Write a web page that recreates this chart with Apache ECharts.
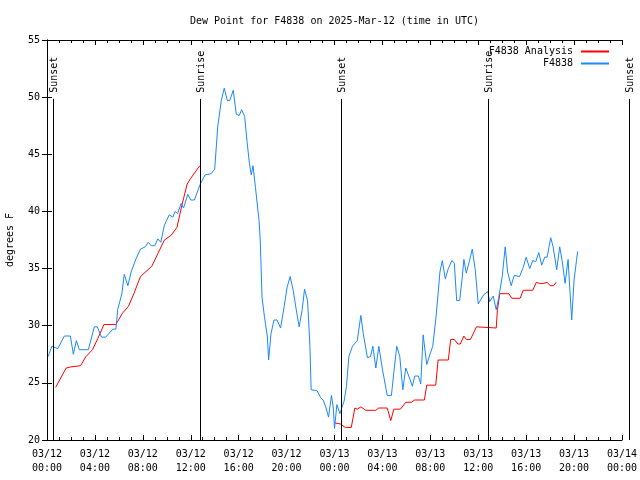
<!DOCTYPE html>
<html>
<head>
<meta charset="utf-8">
<script src="https://cdn.jsdelivr.net/npm/echarts@6/dist/echarts.min.js"></script>
<style>html,body{margin:0;padding:0;background:#fff}#c{width:640px;height:480px}</style>
</head>
<body>
<div id="c"></div>
<script>
// hours since 2025-03-12 00:00 UTC
const obsHours = [0.1,0.4,0.9,1.45,1.95,2.2,2.45,2.7,3.45,3.95,4.2,4.55,4.9,5.5,5.75,5.9,6.25,6.45,6.75,7.05,7.45,7.8,8.2,8.45,8.7,9.0,9.25,9.5,9.8,10.2,10.5,10.7,10.9,11.2,11.4,11.75,12.0,12.3,12.8,13.2,13.7,14.0,14.25,14.55,14.8,15.05,15.25,15.55,15.8,16.05,16.25,16.5,16.7,16.9,17.05,17.2,17.4,17.7,17.8,17.95,18.15,18.4,18.5,18.7,18.95,19.2,19.5,19.8,20.05,20.3,20.55,20.85,21.05,21.3,21.5,21.75,21.95,22.05,22.55,22.85,23.05,23.3,23.5,23.75,23.9,24.0,24.2,24.45,24.6,24.8,25.0,25.2,25.5,25.9,26.2,26.4,26.75,27.0,27.2,27.45,27.7,28.0,28.4,28.75,28.95,29.2,29.45,29.7,29.95,30.2,30.5,30.7,31.0,31.2,31.4,31.7,32.0,32.2,32.45,32.65,32.8,33.0,33.25,33.5,33.8,34.0,34.2,34.45,34.65,34.8,35.0,35.25,35.5,35.75,36.0,36.45,36.8,36.95,37.25,37.5,37.7,38.0,38.25,38.45,38.75,39.0,39.45,39.75,40.0,40.3,40.55,40.8,41.05,41.3,41.55,41.75,42.05,42.25,42.55,42.8,43.0,43.25,43.5,43.65,43.8,44.0,44.2,44.3];
const obsDew = [27.3,28.2,28.0,29.1,29.1,27.5,28.7,27.9,27.9,29.9,29.9,29.0,29.0,29.7,29.7,31.4,32.8,34.5,33.5,34.8,35.9,36.7,36.9,37.3,37.0,37.0,37.6,37.3,38.8,39.7,39.5,40.0,39.8,40.7,40.3,41.5,41.0,41.0,42.4,43.2,43.3,43.7,47.4,49.7,50.8,49.7,49.7,50.6,48.5,48.4,48.9,48.3,46.1,44.2,43.2,44.0,42.1,39.2,37.5,32.5,30.8,29.0,27.0,29.3,30.5,30.5,29.8,31.7,33.4,34.3,33.1,31.1,29.9,31.4,33.2,32.2,28.2,24.4,24.3,23.7,23.5,22.8,22.0,23.9,22.8,21.0,23.1,22.3,22.8,23.4,24.7,27.3,28.2,28.7,30.9,29.3,27.2,27.3,28.2,26.3,28.2,26.2,23.9,23.9,25.9,28.2,27.3,24.4,26.3,25.6,24.7,25.6,25.6,24.9,29.2,26.6,27.6,28.2,30.5,32.8,34.7,35.7,34.1,35.0,35.7,35.5,32.2,32.2,34.1,35.8,34.6,35.6,36.7,34.9,31.9,32.7,33.0,32.1,32.6,31.4,32.4,34.3,36.9,34.7,33.5,34.4,34.3,35.1,36.0,35.0,35.7,35.6,36.4,35.3,36.0,36.0,37.7,36.9,34.9,36.9,35.7,33.7,35.8,33.1,30.5,34.0,35.7,36.5];
const anaHours = [0.72,1.6,2.0,2.8,3.25,3.8,4.25,4.75,5.75,6.3,6.8,7.25,7.8,8.75,9.25,9.8,10.35,10.85,11.25,11.7,12.0,12.75,18.0,24.0,24.5,24.9,25.4,25.7,25.9,26.2,26.6,27.45,27.7,28.4,28.7,28.95,29.5,29.95,30.4,30.7,31.5,31.7,32.45,32.65,33.5,33.7,34.0,34.3,34.5,34.8,35.0,35.35,35.85,37.5,37.6,37.8,38.55,38.8,39.5,39.75,40.55,40.85,41.1,41.45,41.75,42.0,42.3,42.5];
const anaDew = [24.6,26.3,26.4,26.5,27.3,27.9,28.9,30.1,30.1,31.1,31.7,32.8,34.3,35.2,36.3,37.5,37.9,38.6,40.5,42.4,42.9,44.0,null,21.5,21.4,21.1,21.1,22.8,22.7,22.9,22.6,22.6,22.8,22.8,21.7,22.7,22.7,23.3,23.3,23.5,23.5,24.8,24.8,27.0,27.0,28.8,28.8,28.4,28.4,29.1,28.8,28.8,29.9,29.8,31.4,32.8,32.8,32.4,32.4,33.1,33.1,33.8,33.7,33.7,33.8,33.5,33.5,33.8];
const sunHours = [0.53, 12.8, 24.53, 36.8, 48.58];
const sunLabels = ['Sunset', 'Sunrise', 'Sunset', 'Sunrise', 'Sunset'];
const xTickLabels = ['03/12\n00:00','03/12\n04:00','03/12\n08:00','03/12\n12:00','03/12\n16:00','03/12\n20:00','03/13\n00:00','03/13\n04:00','03/13\n08:00','03/13\n12:00','03/13\n16:00','03/13\n20:00','03/14\n00:00'];

const FONT = 'DejaVu Sans Mono';
const pair = (xs, ys) => xs.map((x, i) => [x, ys[i] === null ? '-' : ys[i]]);

const chart = echarts.init(document.getElementById('c'), null, {renderer: 'canvas'});
const axisCommon = {
  axisLine: {show: true, lineStyle: {color: '#000', width: 1}},
  splitLine: {show: false},
};
chart.setOption({
  animation: false,
  backgroundColor: '#fff',
  title: {
    text: 'Dew Point for F4838 on 2025-Mar-12 (time in UTC)',
    left: 185, top: 11,
    textStyle: {fontFamily: FONT, fontSize: 10, fontWeight: 'normal', color: '#000'}
  },
  legend: {
    data: ['F4838 Analysis', 'F4838'],
    orient: 'vertical', align: 'right',
    right: 26, top: 41,
    icon: 'rect',
    itemWidth: 28, itemHeight: 2, itemGap: 1,
    textStyle: {fontFamily: FONT, fontSize: 10, color: '#000', lineHeight: 11, padding: [0, 3, 0, 0]}
  },
  grid: {left: 47, right: 18, top: 40, bottom: 40, containLabel: false, outerBoundsMode: 'none'},
  xAxis: [{
    ...axisCommon,
    type: 'value', min: 0, max: 48, interval: 4,
    axisTick: {show: true, inside: true, length: 5, lineStyle: {color: '#000'}},
    minorTick: {show: true, splitNumber: 4, length: 3, lineStyle: {color: '#000'}},
    minorSplitLine: {show: false},
    axisLabel: {
      fontFamily: FONT, fontSize: 10, color: '#000', margin: 7, lineHeight: 14,
      formatter: v => xTickLabels[Math.round(v / 4)]
    }
  }, {
    ...axisCommon,
    type: 'value', min: 0, max: 48, interval: 4, position: 'top',
    axisTick: {show: true, inside: true, length: 5, lineStyle: {color: '#000'}},
    minorTick: {show: true, splitNumber: 4, length: 3, lineStyle: {color: '#000'}},
    axisLabel: {show: false}
  }],
  yAxis: [{
    ...axisCommon,
    type: 'value', min: 20, max: 55, interval: 5,
    name: 'degrees F', nameLocation: 'middle', nameGap: 32,
    nameTextStyle: {fontFamily: FONT, fontSize: 10, color: '#000'},
    axisTick: {show: true, inside: true, length: 5, lineStyle: {color: '#000'}},
    axisLabel: {fontFamily: FONT, fontSize: 10, color: '#000', margin: 7}
  }, {
    ...axisCommon,
    type: 'value', min: 20, max: 55, interval: 5, position: 'right',
    axisTick: {show: true, inside: true, length: 5, lineStyle: {color: '#000'}},
    axisLabel: {show: false}
  }],
  series: [{
    name: 'F4838 Analysis', type: 'line', data: pair(anaHours, anaDew),
    symbol: 'none', connectNulls: false,
    lineStyle: {color: '#ff0000', width: 1}, itemStyle: {color: '#ff0000'}, z: 3
  }, {
    name: 'F4838', type: 'line', data: pair(obsHours, obsDew),
    symbol: 'none',
    lineStyle: {color: '#1a88ff', width: 1}, itemStyle: {color: '#1a88ff'}, z: 4
  }, {
    name: 'sun', type: 'custom', clip: false, z: 5,
    data: sunHours.map(h => [h, 20]),
    renderItem: function (params, api) {
      const p = api.coord([api.value(0), 20]);
      const x = Math.round(p[0]) + 0.5;
      const yb = p[1];
      const yt = api.coord([0, 49.85])[1];
      return {
        type: 'group',
        children: [{
          type: 'line',
          shape: {x1: x, y1: yb, x2: x, y2: yt},
          style: {stroke: '#000', lineWidth: 1}
        }, {
          type: 'text', x: x + 1, y: yt - 6, rotation: Math.PI / 2,
          style: {text: sunLabels[params.dataIndex], align: 'left', verticalAlign: 'middle',
            font: '10px ' + FONT, fill: '#000'}
        }]
      };
    }
  }]
});
</script>
</body>
</html>
